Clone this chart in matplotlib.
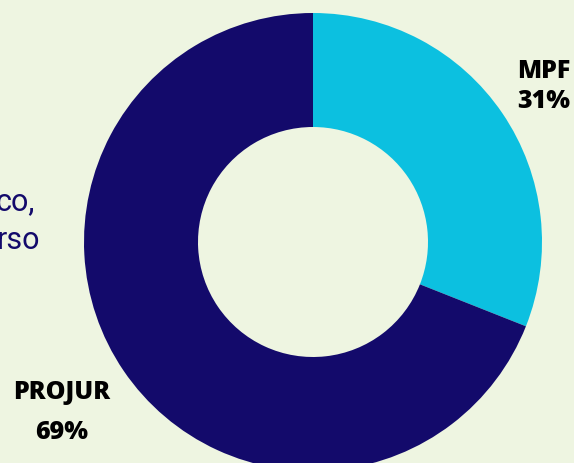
import matplotlib.pyplot as plt

labels = ["MPF", "PROJUR"]
shares = [31, 69]
colors = ["#0cc0e0", "#130a6b"]
side_text = ["co,", "rso"]

W, H = 574, 464
fig = plt.figure(figsize=(W / 100, H / 100), dpi=100, facecolor="#eef5e1")
ax = fig.add_axes([0, 0, 1, 1])
ax.set_facecolor("#eef5e1")

# text sitting behind the donut on the left
ax.text(35, H - 202, side_text[0], ha="right", va="center", fontsize=22,
        color="#130a6b", family="Roboto")
ax.text(40, H - 241, side_text[1], ha="right", va="center", fontsize=22,
        color="#130a6b", family="Roboto")

ax.pie(shares, colors=colors, startangle=90, counterclock=False,
       center=(313, H - 243), radius=229,
       wedgeprops=dict(width=114, linewidth=0))

lab_pos = [(544, 72, 102), (62, 393, 433)]
for name, val, (x, y1, y2) in zip(labels, shares, lab_pos):
    ax.text(x, H - y1, name, ha="center", va="center", fontsize=18,
            fontweight=800, family="Open Sans", color="black")
    ax.text(x, H - y2, f"{val}%", ha="center", va="center", fontsize=18,
            fontweight=800, family="Open Sans", color="black")

ax.set_xlim(0, W)
ax.set_ylim(0, H)
ax.set_aspect("equal")
ax.axis("off")
fig.savefig("out.png", dpi=100, facecolor=fig.get_facecolor())
